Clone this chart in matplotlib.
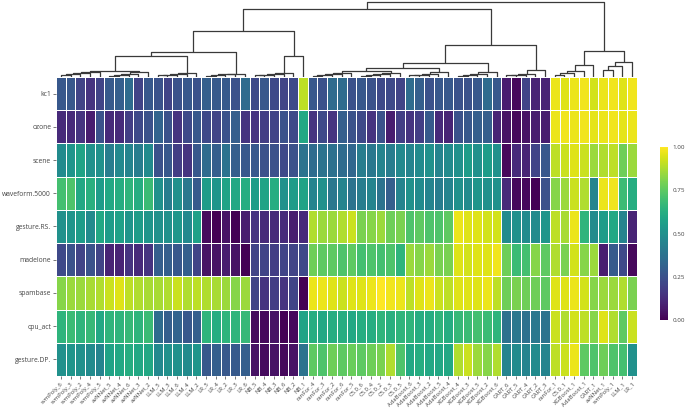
import numpy as np
import matplotlib
matplotlib.use("Agg")
import matplotlib.pyplot as plt

plt.rcParams['font.family'] = ['Open Sans', 'DejaVu Sans']

# ---------------- data ----------------
columns = ["svmPoly_6", "svmPoly_3", "svmPoly_2", "svmPoly_4", "svmPoly_5",
           "avNNet_5", "avNNet_4", "avNNet_6", "avNNet_3", "avNNet_2",
           "LLM_5", "LLM_3", "LLM_6", "LLM_4", "LLM_2",
           "LR_5", "LR_4", "LR_2", "LR_3", "LR_6",
           "NB_5", "NB_4", "NB_3", "NB_6", "NB_2", "NB_1",
           "ranFor_4", "ranFor_3", "ranFor_2", "ranFor_6", "ranFor_5",
           "C5.0_6", "C5.0_4", "C5.0_2", "C5.0_3", "C5.0_5",
           "AdaBoost_6", "AdaBoost_3", "AdaBoost_2", "AdaBoost_5", "AdaBoost_4",
           "XGBoost_4", "XGBoost_3", "XGBoost_5", "XGBoost_2", "XGBoost_6",
           "CART_6", "CART_5", "CART_4", "CART_2", "CART_3",
           "ranFor_1", "C5.0_1", "XGBoost_1", "AdaBoost_1", "CART_1",
           "avNNet_1", "svmPoly_1", "LLM_1", "LR_1"]

datasets = ["kc1", "ozone", "scene", "waveform.5000", "gesture.RS.",
            "madelone", "spambase", "cpu_act", "gesture.DP."]

kc1 = [0.27, 0.27, 0.20, 0.15, 0.20, 0.28, 0.30, 0.35, 0.20, 0.27,
       0.25, 0.20, 0.25, 0.27, 0.25, 0.30, 0.28, 0.28, 0.25, 0.35,
       0.22, 0.27, 0.22, 0.20, 0.22, 0.90, 0.27, 0.25, 0.35, 0.35,
       0.25, 0.27, 0.25, 0.22, 0.22, 0.20, 0.35, 0.30, 0.25, 0.27,
       0.27, 0.25, 0.25, 0.27, 0.35, 0.27, 0.08, 0.02, 0.20, 0.10,
       0.10, 0.97, 0.95, 0.97, 0.98, 0.93, 0.97, 0.98, 0.95, 0.98]
ozone = [0.12, 0.12, 0.15, 0.08, 0.25, 0.12, 0.12, 0.18, 0.22, 0.25,
         0.32, 0.25, 0.15, 0.22, 0.27, 0.22, 0.20, 0.25, 0.30, 0.15,
         0.15, 0.18, 0.20, 0.25, 0.22, 0.60, 0.15, 0.22, 0.15, 0.30,
         0.25, 0.22, 0.15, 0.25, 0.08, 0.18, 0.15, 0.18, 0.28, 0.12,
         0.10, 0.25, 0.27, 0.30, 0.30, 0.10, 0.05, 0.02, 0.05, 0.08,
         0.08, 0.97, 0.98, 0.97, 0.98, 0.96, 0.97, 0.98, 0.96, 0.97]
scene = [0.48, 0.52, 0.58, 0.50, 0.50, 0.42, 0.47, 0.45, 0.42, 0.48,
         0.25, 0.27, 0.18, 0.15, 0.27, 0.35, 0.30, 0.38, 0.30, 0.27,
         0.27, 0.25, 0.25, 0.22, 0.25, 0.38, 0.35, 0.38, 0.37, 0.35,
         0.33, 0.42, 0.40, 0.45, 0.42, 0.47, 0.45, 0.48, 0.50, 0.45,
         0.48, 0.50, 0.55, 0.50, 0.55, 0.50, 0.02, 0.12, 0.10, 0.20,
         0.27, 0.90, 0.92, 0.95, 0.92, 0.85, 0.88, 0.90, 0.78, 0.85]
waveform = [0.70, 0.72, 0.60, 0.63, 0.55, 0.60, 0.62, 0.65, 0.62, 0.68,
            0.50, 0.42, 0.50, 0.40, 0.28, 0.55, 0.52, 0.58, 0.60, 0.62,
            0.55, 0.58, 0.62, 0.50, 0.55, 0.58, 0.45, 0.50, 0.40, 0.45,
            0.38, 0.42, 0.45, 0.38, 0.30, 0.45, 0.50, 0.48, 0.45, 0.42,
            0.45, 0.50, 0.48, 0.52, 0.50, 0.50, 0.12, 0.02, 0.02, 0.00,
            0.25, 0.82, 0.85, 0.92, 0.88, 0.45, 0.97, 0.98, 0.68, 0.62]
gesture_rs = [0.50, 0.52, 0.55, 0.48, 0.60, 0.55, 0.57, 0.52, 0.55, 0.52,
              0.50, 0.50, 0.53, 0.47, 0.57, 0.03, 0.00, 0.05, 0.00, 0.08,
              0.15, 0.12, 0.12, 0.12, 0.08, 0.12, 0.88, 0.85, 0.85, 0.88,
              0.92, 0.80, 0.82, 0.85, 0.78, 0.80, 0.72, 0.75, 0.72, 0.72,
              0.75, 0.97, 0.95, 0.95, 0.93, 0.93, 0.48, 0.50, 0.48, 0.48,
              0.52, 0.90, 0.87, 0.97, 0.65, 0.48, 0.55, 0.60, 0.45, 0.10]
madelone = [0.22, 0.25, 0.20, 0.25, 0.20, 0.10, 0.10, 0.15, 0.12, 0.15,
            0.30, 0.30, 0.27, 0.30, 0.20, 0.05, 0.05, 0.08, 0.05, 0.00,
            0.20, 0.20, 0.18, 0.20, 0.20, 0.22, 0.78, 0.75, 0.75, 0.72,
            0.75, 0.70, 0.72, 0.70, 0.72, 0.65, 0.85, 0.82, 0.85, 0.80,
            0.80, 0.95, 0.93, 0.95, 0.95, 0.98, 0.78, 0.68, 0.70, 0.82,
            0.75, 0.88, 0.80, 0.93, 0.82, 0.85, 0.08, 0.28, 0.22, 0.02]
spambase = [0.82, 0.85, 0.85, 0.87, 0.88, 0.92, 0.95, 0.90, 0.88, 0.87,
            0.87, 0.88, 0.92, 0.88, 0.90, 0.88, 0.87, 0.85, 0.82, 0.85,
            0.20, 0.15, 0.18, 0.15, 0.20, 0.00, 0.97, 0.97, 0.95, 0.92,
            0.95, 0.95, 0.97, 1.00, 0.98, 0.97, 0.90, 0.95, 0.97, 0.92,
            0.90, 0.95, 0.95, 0.95, 0.97, 0.90, 0.78, 0.80, 0.78, 0.78,
            0.75, 0.95, 0.95, 0.97, 0.93, 0.82, 0.85, 0.85, 0.88, 0.80]
cpu_act = [0.65, 0.68, 0.65, 0.67, 0.60, 0.65, 0.65, 0.67, 0.65, 0.68,
           0.35, 0.30, 0.32, 0.27, 0.30, 0.65, 0.62, 0.65, 0.65, 0.67,
           0.03, 0.02, 0.05, 0.00, 0.02, 0.58, 0.62, 0.60, 0.62, 0.62,
           0.60, 0.62, 0.62, 0.65, 0.63, 0.65, 0.65, 0.62, 0.62, 0.65,
           0.62, 0.67, 0.68, 0.70, 0.68, 0.65, 0.37, 0.40, 0.37, 0.40,
           0.38, 0.92, 0.88, 0.93, 0.90, 0.82, 0.95, 0.88, 0.75, 0.92]
gesture_dp = [0.50, 0.52, 0.50, 0.48, 0.45, 0.58, 0.60, 0.62, 0.60, 0.60,
              0.47, 0.50, 0.50, 0.48, 0.52, 0.27, 0.30, 0.27, 0.28, 0.30,
              0.05, 0.03, 0.05, 0.02, 0.05, 0.38, 0.75, 0.72, 0.78, 0.75,
              0.77, 0.75, 0.78, 0.80, 0.88, 0.72, 0.60, 0.62, 0.60, 0.60,
              0.60, 0.88, 0.92, 0.85, 0.82, 0.88, 0.45, 0.48, 0.45, 0.48,
              0.45, 0.90, 0.92, 0.97, 0.75, 0.72, 0.78, 0.72, 0.70, 0.50]

rows_values = [kc1, ozone, scene, waveform, gesture_rs, madelone,
               spambase, cpu_act, gesture_dp]

colorbar_ticks = [0.0, 0.25, 0.5, 0.75, 1.0]

# dendrogram: chains of consecutive leaves (first leaf, count, merge heights)
leaf_chains = {
    "svm":  (0, 5, [0.020, 0.035, 0.050, 0.065]),
    "av":   (5, 5, [0.015, 0.030, 0.045, 0.060]),
    "llm":  (10, 5, [0.020, 0.030, 0.045, 0.055]),
    "lr":   (15, 5, [0.015, 0.025, 0.035, 0.040]),
    "nb":   (20, 5, [0.020, 0.030, 0.040, 0.053]),
    "rf":   (26, 5, [0.015, 0.025, 0.040, 0.050]),
    "c5":   (31, 5, [0.015, 0.025, 0.035, 0.050]),
    "ada":  (36, 5, [0.020, 0.030, 0.045, 0.065]),
    "xg":   (41, 5, [0.015, 0.030, 0.045, 0.065]),
    "cart": (46, 5, [0.020, 0.030, 0.045, 0.092]),
    "C1":   (51, 5, [0.026, 0.053, 0.079, 0.158]),
    "C2":   (56, 4, [0.090, 0.140, 0.200]),
}
upper_merges = [
    ("SA", "svm", "av", 0.083),
    ("S1", "SA", "llm", 0.280),
    ("A1", "S1", "lr", 0.333),
    ("A2", "nb", 25, 0.280),
    ("A", "A1", "A2", 0.605),
    ("RC", "rf", "c5", 0.083),
    ("B1a", "RC", "ada", 0.120),
    ("B1", "B1a", "xg", 0.180),
    ("B", "B1", "cart", 0.430),
    ("L", "A", "B", 0.910),
    ("C", "C1", "C2", 0.342),
    ("root", "L", "C", 1.000),
]

# ---------------- figure ----------------
W, H = 685, 411
fig = plt.figure(figsize=(W / 100, H / 100), dpi=100)

def frac(x0, y0, x1, y1):
    return [x0 / W, 1 - y1 / H, (x1 - x0) / W, (y1 - y0) / H]

text_col = "#444444"
ncol = len(columns)
nrow = len(datasets)

# heatmap
ax = fig.add_axes(frac(56, 77, 637, 376))
Z = np.array(rows_values)
mesh = ax.pcolormesh(np.arange(ncol + 1), np.arange(nrow + 1), Z, cmap="viridis",
                     vmin=0, vmax=1, edgecolors="white", linewidth=0.7)
ax.set_xlim(0, ncol)
ax.set_ylim(nrow, 0)
for s in ax.spines.values():
    s.set_visible(False)
ax.set_yticks(np.arange(nrow) + 0.5)
ax.set_yticklabels(datasets, fontsize=4.9, color=text_col)
ax.set_xticks(np.arange(ncol) + 0.5)
ax.set_xticklabels(columns, fontsize=4.2, color=text_col, rotation=45,
                   ha="right", rotation_mode="anchor")
ax.tick_params(axis="both", length=2, width=0.5, color=text_col, pad=1.5)

# dendrogram
axd = fig.add_axes(frac(56, 1, 637, 77))
axd.set_xlim(0, ncol)
axd.set_ylim(0, 1.01)
axd.axis("off")

nodes = {}
line_kw = dict(color="#3a3a3a", lw=0.9, solid_capstyle="butt")

def pos(n):
    if isinstance(n, int):
        return (n + 0.5, 0.0)
    return nodes[n]

def draw_u(a, b, h):
    xa, ha = a
    xb, hb = b
    axd.plot([xa, xa, xb, xb], [ha, h, h, hb], **line_kw)
    return ((xa + xb) / 2, h)

for name, (start, count, heights) in leaf_chains.items():
    cur = pos(start)
    for k in range(1, count):
        cur = draw_u(cur, pos(start + k), heights[k - 1])
    nodes[name] = cur

for name, a, b, h in upper_merges:
    nodes[name] = draw_u(pos(a), pos(b), h)

# colorbar
cax = fig.add_axes(frac(660, 147, 668, 320))
cb = fig.colorbar(mesh, cax=cax, ticks=colorbar_ticks)
cb.outline.set_visible(False)
cb.ax.set_yticklabels([f"{t:.2f}" for t in colorbar_ticks], fontsize=4.5, color=text_col)
cb.ax.tick_params(length=0, pad=3)

fig.savefig("out.png", dpi=100, facecolor="white")
